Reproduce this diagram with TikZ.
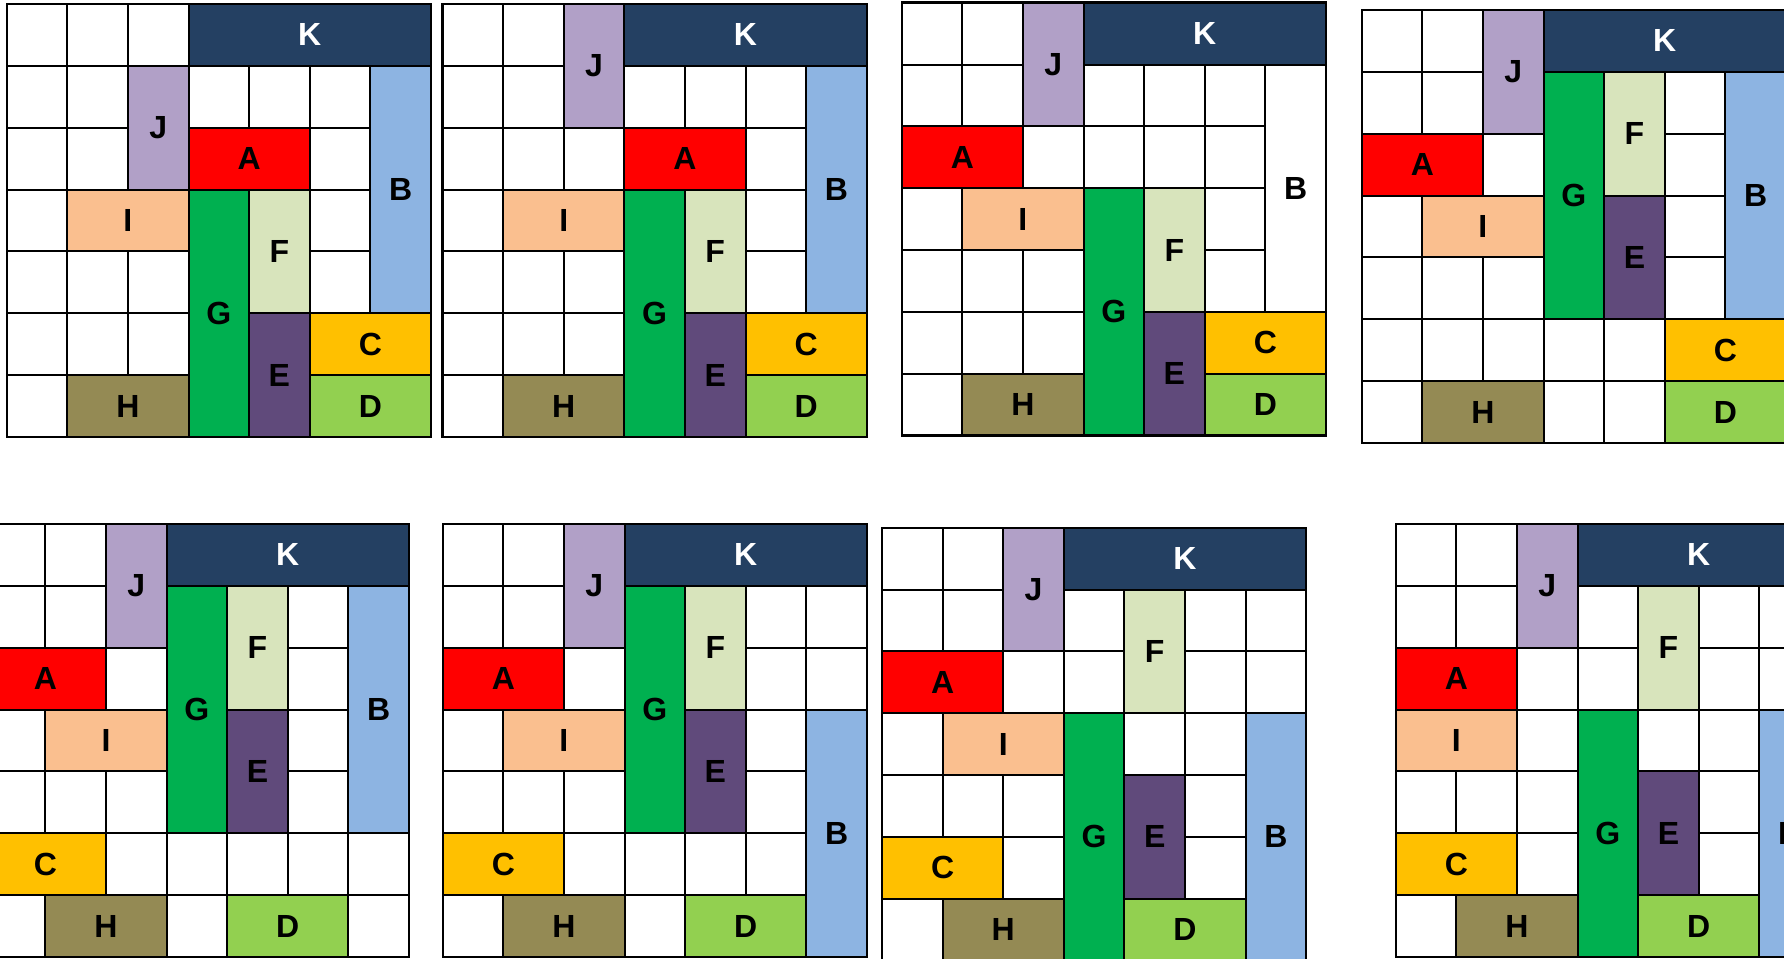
\documentclass[tikz,border=0pt]{standalone}
\usepackage{fontspec}
\setmainfont{Liberation Sans}
\begin{document}
\begin{tikzpicture}[x=1pt, y=-1pt,
  every node/.style={font=\fontsize{32}{36}\selectfont\bfseries},
  cellline/.style={draw=black, line width=2pt},
  frameline/.style={draw=black, line width=2.4pt}]
\definecolor{navy}{RGB}{36,64,98}
\definecolor{lavender}{RGB}{177,160,199}
\definecolor{blockred}{RGB}{255,0,0}
\definecolor{skyblue}{RGB}{141,180,226}
\definecolor{peach}{RGB}{250,191,143}
\definecolor{grass}{RGB}{0,176,80}
\definecolor{pale}{RGB}{216,228,188}
\definecolor{plum}{RGB}{96,74,123}
\definecolor{gold}{RGB}{255,192,0}
\definecolor{lime}{RGB}{146,208,80}
\definecolor{olive}{RGB}{148,138,84}
\clip (0,0) rectangle (1784,958);
\fill[white] (0,0) rectangle (1784,958);
\def\cw{60.6}
\def\ch{61.85}
% Data: {panel, left, top, blocks as letter/col/row/width/height/fill/text}
\foreach \p/\ox/\oy/\blocks in {
  1/6.7/4/{K/3/0/4/1/navy/white, J/2/1/1/2/lavender/black, A/3/2/2/1/blockred/black, B/6/1/1/4/skyblue/black, I/1/3/2/1/peach/black, G/3/3/1/4/grass/black, F/4/3/1/2/pale/black, E/4/5/1/2/plum/black, C/5/5/2/1/gold/black, D/5/6/2/1/lime/black, H/1/6/2/1/olive/black},
  2/442.5/4/{K/3/0/4/1/navy/white, J/2/0/1/2/lavender/black, A/3/2/2/1/blockred/black, B/6/1/1/4/skyblue/black, I/1/3/2/1/peach/black, G/3/3/1/4/grass/black, F/4/3/1/2/pale/black, E/4/5/1/2/plum/black, C/5/5/2/1/gold/black, D/5/6/2/1/lime/black, H/1/6/2/1/olive/black},
  3/901.7/2.7/{K/3/0/4/1/navy/white, J/2/0/1/2/lavender/black, A/0/2/2/1/blockred/black, B/6/1/1/4/white/black, I/1/3/2/1/peach/black, G/3/3/1/4/grass/black, F/4/3/1/2/pale/black, E/4/5/1/2/plum/black, C/5/5/2/1/gold/black, D/5/6/2/1/lime/black, H/1/6/2/1/olive/black},
  4/1361.7/10/{K/3/0/4/1/navy/white, J/2/0/1/2/lavender/black, A/0/2/2/1/blockred/black, I/1/3/2/1/peach/black, G/3/1/1/4/grass/black, F/4/1/1/2/pale/black, E/4/3/1/2/plum/black, B/6/1/1/4/skyblue/black, C/5/5/2/1/gold/black, D/5/6/2/1/lime/black, H/1/6/2/1/olive/black},
  5/-15.2/524/{K/3/0/4/1/navy/white, J/2/0/1/2/lavender/black, A/0/2/2/1/blockred/black, I/1/3/2/1/peach/black, G/3/1/1/4/grass/black, F/4/1/1/2/pale/black, E/4/3/1/2/plum/black, B/6/1/1/4/skyblue/black, C/0/5/2/1/gold/black, H/1/6/2/1/olive/black, D/4/6/2/1/lime/black},
  6/442.7/524/{K/3/0/4/1/navy/white, J/2/0/1/2/lavender/black, A/0/2/2/1/blockred/black, I/1/3/2/1/peach/black, G/3/1/1/4/grass/black, F/4/1/1/2/pale/black, E/4/3/1/2/plum/black, B/6/3/1/4/skyblue/black, C/0/5/2/1/gold/black, H/1/6/2/1/olive/black, D/4/6/2/1/lime/black},
  7/882/527.7/{K/3/0/4/1/navy/white, J/2/0/1/2/lavender/black, A/0/2/2/1/blockred/black, F/4/1/1/2/pale/black, I/1/3/2/1/peach/black, G/3/3/1/4/grass/black, E/4/4/1/2/plum/black, B/6/3/1/4/skyblue/black, C/0/5/2/1/gold/black, H/1/6/2/1/olive/black, D/4/6/2/1/lime/black},
  8/1395.7/524/{K/3/0/4/1/navy/white, J/2/0/1/2/lavender/black, A/0/2/2/1/blockred/black, F/4/1/1/2/pale/black, I/0/3/2/1/peach/black, G/3/3/1/4/grass/black, E/4/4/1/2/plum/black, B/6/3/1/4/skyblue/black, C/0/5/2/1/gold/black, H/1/6/2/1/olive/black, D/4/6/2/1/lime/black}%
} {
  % Empty cells
  \foreach \i in {0,...,6} {
    \foreach \j in {0,...,6} {
      \draw[cellline] ({\ox+\i*\cw},{\oy+\j*\ch}) rectangle ++(\cw,\ch);
    }
  }
  % Blocks with their letters
  \foreach \lbl/\cx/\cy/\bw/\bh/\fc/\tc in \blocks {
    \filldraw[cellline, fill=\fc] ({\ox+\cx*\cw},{\oy+\cy*\ch}) rectangle ++({\bw*\cw},{\bh*\ch});
    \node[text=\tc] (p\p-\lbl) at ({\ox+(\cx+\bw/2)*\cw},{\oy+(\cy+\bh/2)*\ch}) {\lbl};
  }
  % Frame
  \draw[frameline] (\ox,\oy) rectangle ++({7*\cw},{7*\ch});
}
\end{tikzpicture}
\end{document}
